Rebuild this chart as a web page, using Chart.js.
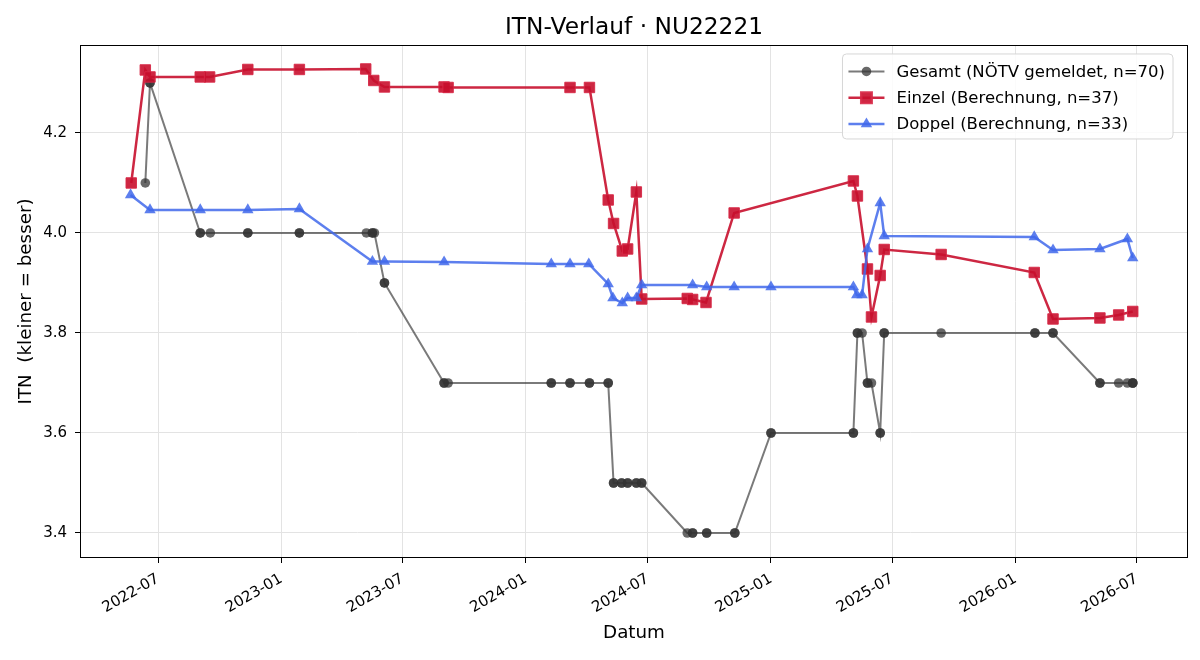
<!DOCTYPE html>
<html><head><meta charset="utf-8">
<script src="https://cdn.jsdelivr.net/npm/chart.js@4.4.1/dist/chart.umd.min.js"></script>
<style>html,body{margin:0;padding:0;background:#fff}#wrap{width:1200px;height:660px;position:relative}</style>
</head><body><div id="wrap"><canvas id="c" width="1200" height="660"></canvas></div>
<script>
// ---- data ----
const titleText = 'ITN-Verlauf · NU22221';
const xAxisTitle = 'Datum';
const yAxisTitle = 'ITN  (kleiner = besser)';
const xTickLabels = ['2022-07','2023-01','2023-07','2024-01','2024-07','2025-01','2025-07','2026-01','2026-07'];
const yTickValues = [3.4, 3.6, 3.8, 4.0, 4.2];
const xRange = ['2022-03-08', '2026-09-14'];
const yRange = [3.352, 4.374];

const seriesLabels = ['Gesamt (NÖTV gemeldet, n=70)', 'Einzel (Berechnung, n=37)', 'Doppel (Berechnung, n=33)'];

const gesamtDates = ['2022-06-12','2022-06-19','2022-06-19','2022-09-02','2022-09-02','2022-09-17','2022-11-12','2022-11-12','2023-01-28','2023-01-28',
 '2023-05-08','2023-05-17','2023-05-17','2023-05-20','2023-06-04','2023-06-04','2023-09-01','2023-09-01','2023-09-07','2024-02-08',
 '2024-02-08','2024-03-07','2024-03-07','2024-04-05','2024-04-05','2024-05-03','2024-05-03','2024-05-11','2024-05-11','2024-05-23',
 '2024-05-23','2024-06-01','2024-06-01','2024-06-14','2024-06-14','2024-06-22','2024-06-22','2024-08-29','2024-09-06','2024-09-06',
 '2024-09-27','2024-09-27','2024-11-08','2024-11-08','2025-01-01','2025-01-01','2025-05-04','2025-05-04','2025-05-10','2025-05-10',
 '2025-05-17','2025-05-25','2025-05-25','2025-05-31','2025-06-13','2025-06-13','2025-06-19','2025-06-19','2025-09-12','2026-01-30',
 '2026-01-30','2026-02-26','2026-02-26','2026-05-07','2026-05-07','2026-06-04','2026-06-17','2026-06-25','2026-06-25','2026-06-25'];
const gesamtValues = [4.10,4.30,4.30,4.00,4.00,4.00,4.00,4.00,4.00,4.00,
 4.00,4.00,4.00,4.00,3.90,3.90,3.70,3.70,3.70,3.70,
 3.70,3.70,3.70,3.70,3.70,3.70,3.70,3.50,3.50,3.50,
 3.50,3.50,3.50,3.50,3.50,3.50,3.50,3.40,3.40,3.40,
 3.40,3.40,3.40,3.40,3.60,3.60,3.60,3.60,3.80,3.80,
 3.80,3.70,3.70,3.70,3.60,3.60,3.80,3.80,3.80,3.80,
 3.80,3.80,3.80,3.70,3.70,3.70,3.70,3.70,3.70,3.70];

const einzelDates = ['2022-05-22','2022-06-12','2022-06-19','2022-09-02','2022-09-16','2022-11-12','2023-01-28','2023-05-07','2023-05-19','2023-06-04',
 '2023-09-01','2023-09-07','2024-03-07','2024-04-05','2024-05-03','2024-05-11','2024-05-24','2024-06-01','2024-06-14','2024-06-22',
 '2024-08-29','2024-09-06','2024-09-26','2024-11-07','2025-05-04','2025-05-10','2025-05-25','2025-05-31','2025-06-13','2025-06-19',
 '2025-09-12','2026-01-29','2026-02-26','2026-05-07','2026-06-04','2026-06-25'];
const einzelValues = [4.100,4.326,4.312,4.312,4.312,4.327,4.327,4.328,4.305,4.292,
 4.292,4.291,4.291,4.291,4.066,4.019,3.964,3.968,4.082,3.868,
 3.869,3.867,3.861,4.040,4.104,4.074,3.928,3.832,3.915,3.967,
 3.957,3.921,3.828,3.830,3.836,3.843];

const doppelDates = ['2022-05-21','2022-06-19','2022-09-02','2022-11-12','2023-01-28','2023-05-17','2023-06-04','2023-09-01','2024-02-08','2024-03-07',
 '2024-04-04','2024-05-03','2024-05-10','2024-05-24','2024-06-01','2024-06-14','2024-06-22','2024-09-06','2024-09-27','2024-11-07',
 '2025-01-01','2025-05-04','2025-05-09','2025-05-17','2025-05-25','2025-06-13','2025-06-19','2026-01-29','2026-02-26','2026-05-07',
 '2026-06-17','2026-06-25'];
const doppelValues = [4.076,4.046,4.046,4.046,4.048,3.943,3.943,3.942,3.938,3.938,
 3.938,3.898,3.870,3.860,3.870,3.870,3.896,3.896,3.892,3.892,
 3.892,3.892,3.876,3.876,3.968,4.060,3.994,3.992,3.966,3.968,
 3.988,3.950];

// ---- helpers ----
function ms(s){ const p = s.split('-').map(Number); return Date.UTC(p[0], p[1]-1, p[2] || 1); }
function pts(d, v){ return d.map((s,i)=>({x: ms(s), y: v[i]})); }

Chart.defaults.font.family = "'DejaVu Sans', sans-serif";
Chart.defaults.color = '#000';

const framePlugin = {
  id: 'frame',
  afterDraw(chart){
    const a = chart.chartArea, ctx = chart.ctx;
    ctx.save();
    ctx.strokeStyle = '#000';
    ctx.lineWidth = 1;
    ctx.strokeRect(Math.round(a.left)-0.5, Math.round(a.top)-0.5, Math.round(a.right-a.left)+1, Math.round(a.bottom-a.top)+1);
    ctx.restore();
  }
};

const legendPlugin = {
  id: 'boxLegend',
  afterDraw(chart){
    const ctx = chart.ctx, a = chart.chartArea;
    const ds = chart.data.datasets;
    ctx.save();
    ctx.font = "16.5px 'DejaVu Sans', sans-serif";
    let tw = 0;
    ds.forEach(d => { tw = Math.max(tw, ctx.measureText(d.label).width); });
    const w = tw + 62, h = 85;
    const x0 = a.right - 14 - w, y0 = a.top + 8;
    const r = 4;
    ctx.beginPath();
    ctx.moveTo(x0 + r, y0);
    ctx.arcTo(x0 + w, y0, x0 + w, y0 + h, r);
    ctx.arcTo(x0 + w, y0 + h, x0, y0 + h, r);
    ctx.arcTo(x0, y0 + h, x0, y0, r);
    ctx.arcTo(x0, y0, x0 + w, y0, r);
    ctx.closePath();
    ctx.fillStyle = 'rgba(255,255,255,0.85)';
    ctx.fill();
    ctx.strokeStyle = '#d6d6d6';
    ctx.lineWidth = 1;
    ctx.stroke();
    ds.forEach((d, i) => {
      const cy = y0 + 17.5 + i * 26.3;
      const lx = x0 + 6;
      ctx.strokeStyle = d.borderColor;
      ctx.lineWidth = d.borderWidth;
      ctx.beginPath(); ctx.moveTo(lx, cy); ctx.lineTo(lx + 36, cy); ctx.stroke();
      ctx.fillStyle = d.pointBackgroundColor;
      ctx.strokeStyle = d.pointBorderColor;
      Chart.helpers.drawPoint(ctx, {pointStyle: d.pointStyle, radius: d.pointRadius, borderWidth: d.pointBorderWidth, rotation: 0}, lx + 18, cy);
      ctx.fillStyle = '#000';
      ctx.textBaseline = 'middle';
      ctx.textAlign = 'left';
      ctx.fillText(d.label, x0 + 54, cy + 1);
    });
    ctx.restore();
  }
};

new Chart(document.getElementById('c'), {
  type: 'line',
  data: {
    datasets: [
      { label: seriesLabels[0], data: pts(gesamtDates, gesamtValues), order: 3,
        borderColor: 'rgba(51,51,51,0.65)', borderWidth: 2,
        pointStyle: 'circle', pointRadius: 4.8, pointBorderWidth: 0,
        pointBackgroundColor: 'rgba(51,51,51,0.74)', pointBorderColor: 'rgba(51,51,51,0.74)' },
      { label: seriesLabels[1], data: pts(einzelDates, einzelValues), order: 2,
        borderColor: 'rgba(200,16,46,0.9)', borderWidth: 2.5,
        pointStyle: 'rect', pointRadius: 7.4, pointBorderWidth: 1,
        pointBackgroundColor: 'rgba(200,16,46,0.9)', pointBorderColor: 'rgba(215,40,70,0.9)' },
      { label: seriesLabels[2], data: pts(doppelDates, doppelValues), order: 1,
        borderColor: 'rgba(65,105,235,0.85)', borderWidth: 2.5,
        pointStyle: 'triangle', pointRadius: 6.6, pointBorderWidth: 0,
        pointBackgroundColor: 'rgba(65,105,235,0.85)', pointBorderColor: 'rgba(65,105,235,0.85)' }
    ]
  },
  options: {
    responsive: false, animation: false, devicePixelRatio: 1,
    layout: { padding: { left: 0, right: 13, top: 0, bottom: 0 } },
    elements: { line: { tension: 0 } },
    plugins: {
      legend: { display: false },
      tooltip: { enabled: false },
      title: { display: true, fullSize: false, text: titleText, color: '#000',
        font: { size: 23.3, weight: 'normal', lineHeight: 1.2 }, padding: { top: 13.5, bottom: 4.5 } }
    },
    scales: {
      x: {
        type: 'linear', bounds: 'data', min: ms(xRange[0]), max: ms(xRange[1]),
        afterBuildTicks: s => { s.ticks = xTickLabels.map(l => ({ value: ms(l) })); },
        afterFit: s => { s.height = 103; },
        ticks: { autoSkip: false, minRotation: 30, maxRotation: 30, padding: 7, color: '#000',
          font: { size: 15 }, callback: (v, i) => xTickLabels[i] },
        grid: { color: '#e3e3e3', lineWidth: 1, tickColor: '#000', tickLength: 6, drawTicks: true },
        border: { display: false },
        title: { display: true, text: xAxisTitle, color: '#000', font: { size: 18.3 }, padding: { top: 4, bottom: 16 } }
      },
      y: {
        type: 'linear', bounds: 'data', min: yRange[0], max: yRange[1],
        afterBuildTicks: s => { s.ticks = yTickValues.map(v => ({ value: v })); },
        afterFit: s => { s.width = 81; },
        ticks: { padding: 8, color: '#000', font: { size: 15 }, callback: v => Number(v).toFixed(1) },
        grid: { color: '#e3e3e3', lineWidth: 1, tickColor: '#000', tickLength: 6, drawTicks: true },
        border: { display: false },
        title: { display: true, text: yAxisTitle, color: '#000', font: { size: 18.3 }, padding: { top: 15.5, bottom: 4 } }
      }
    }
  },
  plugins: [framePlugin, legendPlugin]
});
</script>
</body></html>
